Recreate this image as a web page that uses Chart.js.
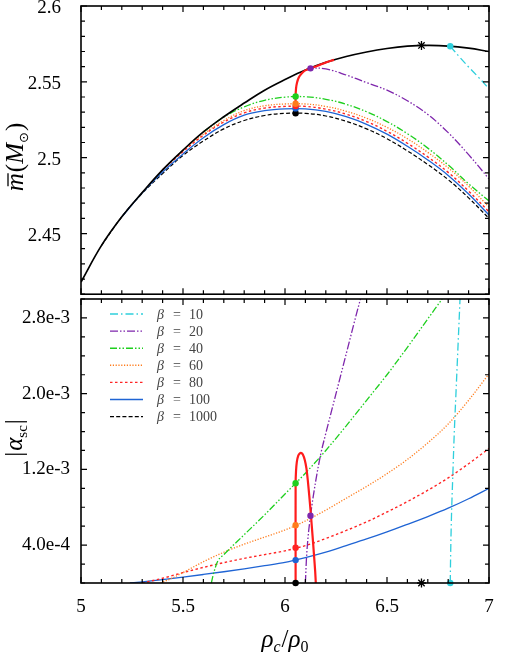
<!DOCTYPE html>
<html>
<head>
<meta charset="utf-8">
<script src="https://cdn.jsdelivr.net/npm/chart.js@4.4.1/dist/chart.umd.min.js"></script>
<style>
    html, body { margin: 0; padding: 0; background: #fff; }
    #wrap { position: relative; width: 525px; height: 657px; }
    canvas { position: absolute; left: 0; }
    #top { top: 0; }
    #bottom { top: 290px; }
</style>
</head>
<body>
<div id="wrap">
    <canvas id="top" width="525" height="300"></canvas>
    <canvas id="bottom" width="525" height="367"></canvas>
</div>
<script>
// ---- data: [rho_c/rho_0, value] ----
const betaValues = [10, 20, 40, 60, 80, 100, 1000];

// upper panel: mass (solar masses)
const massGR = [[5.0, 2.418], [5.1, 2.442], [5.2, 2.461], [5.3, 2.477], [5.4, 2.492], [5.5, 2.505], [5.6, 2.517],
    [5.7, 2.527], [5.8, 2.536], [5.9, 2.5445], [6.0, 2.5515], [6.1, 2.5578], [6.2, 2.5628], [6.3, 2.5667],
    [6.4, 2.5697], [6.5, 2.572], [6.6, 2.5735], [6.7, 2.574], [6.8, 2.5736], [6.9, 2.5722], [7.0, 2.570]];
const massB10 = [[6.81, 2.5735], [6.85, 2.5672], [6.9, 2.5598], [6.95, 2.5528], [7.0, 2.5455]];
const massB20 = [[6.1, 2.5578], [6.125, 2.5589], [6.2, 2.5585], [6.3, 2.5545], [6.4, 2.5495], [6.5, 2.5445],
    [6.6, 2.5375], [6.7, 2.5285], [6.8, 2.5165], [6.9, 2.502], [7.0, 2.486]];
const massB40 = [[5.6, 2.517], [5.7, 2.5268], [5.8, 2.5335], [5.9, 2.5378], [6.0, 2.5399], [6.1, 2.5402],
    [6.2, 2.5385], [6.3, 2.5352], [6.4, 2.5303], [6.5, 2.5238], [6.6, 2.5158], [6.7, 2.5063], [6.8, 2.4952],
    [6.9, 2.4828], [7.0, 2.4715]];
const massB60 = [[5.4, 2.492], [5.5, 2.5048], [5.6, 2.5155], [5.7, 2.5245], [5.8, 2.531], [5.9, 2.5342],
    [6.0, 2.5354], [6.1, 2.5354], [6.2, 2.5338], [6.3, 2.5306], [6.4, 2.526], [6.5, 2.52], [6.6, 2.5125],
    [6.7, 2.5035], [6.8, 2.4933], [6.9, 2.4812], [7.0, 2.4675]];
const massB80 = [[5.4, 2.492], [5.5, 2.504], [5.6, 2.5148], [5.7, 2.5235], [5.8, 2.5295], [5.9, 2.5327],
    [6.0, 2.5338], [6.1, 2.5338], [6.2, 2.532], [6.3, 2.5287], [6.4, 2.5238], [6.5, 2.5174], [6.6, 2.5095],
    [6.7, 2.5005], [6.8, 2.4903], [6.9, 2.478], [7.0, 2.4643]];
const massB100 = [[5.2, 2.461], [5.3, 2.4768], [5.4, 2.4905], [5.5, 2.5025], [5.6, 2.5132], [5.7, 2.5218],
    [5.8, 2.528], [5.9, 2.531], [6.0, 2.5322], [6.1, 2.5322], [6.2, 2.5305], [6.3, 2.527], [6.4, 2.522],
    [6.5, 2.5155], [6.6, 2.5075], [6.7, 2.4985], [6.8, 2.4883], [6.9, 2.476], [7.0, 2.4622]];
const massB1000 = [[5.1, 2.442], [5.2, 2.461], [5.3, 2.4765], [5.4, 2.4895], [5.5, 2.5015], [5.6, 2.511],
    [5.7, 2.519], [5.8, 2.5245], [5.9, 2.5278], [6.0, 2.5292], [6.1, 2.5292], [6.2, 2.5275], [6.3, 2.524],
    [6.4, 2.519], [6.5, 2.5125], [6.6, 2.5045], [6.7, 2.4955], [6.8, 2.4855], [6.9, 2.4735], [7.0, 2.460]];
const massLocus = [[6.052, 2.5293], [6.052, 2.5403], [6.054, 2.5455], [6.059, 2.5495], [6.067, 2.5527],
    [6.077, 2.5548], [6.089, 2.5565], [6.102, 2.5577], [6.115, 2.5585], [6.128, 2.5591], [6.16, 2.5606],
    [6.2, 2.5628], [6.24, 2.5645]];

// lower panel: |alpha_sc|
const alphaB10 = [[6.81, 0], [6.812, 3e-4], [6.816, 7e-4], [6.822, 1.1e-3], [6.83, 1.6e-3], [6.838, 2.0e-3],
    [6.848, 2.5e-3], [6.858, 3.0e-3]];
const alphaB20 = [[6.10, 0], [6.105, 2.5e-4], [6.112, 4.6e-4], [6.125, 7.1e-4], [6.15, 1.07e-3], [6.175, 1.36e-3],
    [6.2, 1.58e-3], [6.25, 2.0e-3], [6.3, 2.42e-3], [6.35, 2.84e-3], [6.37, 3.0e-3]];
const alphaB40 = [[5.639, 0], [5.645, 6e-5], [5.655, 1.4e-4], [5.67, 2.3e-4], [5.7, 3.0e-4], [5.8, 5.1e-4],
    [5.9, 7.2e-4], [6.0, 9.4e-4], [6.1, 1.16e-3], [6.2, 1.4e-3], [6.3, 1.66e-3], [6.4, 1.93e-3], [6.5, 2.2e-3],
    [6.6, 2.49e-3], [6.7, 2.79e-3], [6.77, 3.0e-3]];
const alphaB60 = [[5.39, 0], [5.45, 5.5e-5], [5.5, 1.1e-4], [5.6, 2.25e-4], [5.7, 3.25e-4], [5.8, 4.1e-4],
    [5.9, 4.85e-4], [6.0, 5.6e-4], [6.1, 6.55e-4], [6.2, 7.7e-4], [6.3, 8.95e-4], [6.4, 1.02e-3], [6.5, 1.155e-3],
    [6.6, 1.305e-3], [6.7, 1.48e-3], [6.8, 1.68e-3], [6.9, 1.93e-3], [7.0, 2.21e-3]];
const alphaB80 = [[5.3, 0], [5.4, 5e-5], [5.5, 1.1e-4], [5.6, 1.65e-4], [5.7, 2.15e-4], [5.8, 2.6e-4],
    [5.9, 3.0e-4], [6.0, 3.4e-4], [6.1, 3.95e-4], [6.2, 4.7e-4], [6.3, 5.55e-4], [6.4, 6.45e-4], [6.5, 7.5e-4],
    [6.6, 8.6e-4], [6.7, 9.8e-4], [6.8, 1.11e-3], [6.9, 1.26e-3], [7.0, 1.42e-3]];
const alphaB100 = [[5.24, 0], [5.3, 1.2e-5], [5.4, 3.6e-5], [5.5, 6.2e-5], [5.6, 9.0e-5], [5.7, 1.19e-4],
    [5.8, 1.5e-4], [5.9, 1.83e-4], [6.0, 2.18e-4], [6.1, 2.68e-4], [6.2, 3.26e-4], [6.3, 3.95e-4], [6.4, 4.65e-4],
    [6.5, 5.4e-4], [6.6, 6.2e-4], [6.7, 7.02e-4], [6.8, 7.9e-4], [6.9, 8.9e-4], [7.0, 1.0e-3]];
const alphaLocus = [[6.052, 0], [6.052, 1.05e-3], [6.054, 1.18e-3], [6.058, 1.28e-3], [6.065, 1.345e-3],
    [6.073, 1.37e-3], [6.08, 1.372e-3], [6.088, 1.355e-3], [6.097, 1.3e-3], [6.105, 1.21e-3], [6.112, 1.08e-3],
    [6.119, 0.92e-3], [6.127, 0.72e-3], [6.135, 0.5e-3], [6.142, 0.3e-3], [6.148, 0.12e-3], [6.151, 0]];

// marked models (black=1000, blue=100, red=80, orange=60, green=40, purple=20, cyan=10)
const markRho = [6.052, 6.052, 6.052, 6.052, 6.052, 6.125, 6.81];
const markMass = [2.5293, 2.5325, 2.534, 2.5356, 2.5403, 2.5589, 2.5735];
const markAlpha = [0, 2.42e-4, 3.72e-4, 6.1e-4, 1.053e-3, 7.1e-4, 0];
const starRho = [6.669];
const starMass = [2.574];
const starAlpha = [0];

// ticks
const rhoTicks = [5, 5.5, 6, 6.5, 7];
const rhoTickLabels = ['5', '5.5', '6', '6.5', '7'];
const massTicks = [2.45, 2.5, 2.55, 2.6];
const massTickLabels = ['2.45', '2.5', '2.55', '2.6'];
const alphaTicks = [4e-4, 1.2e-3, 2.0e-3, 2.8e-3];
const alphaTickLabels = ['4.0e-4', '1.2e-3', '2.0e-3', '2.8e-3'];

// ---- styles ----
const SERIF = "'Liberation Serif', 'DejaVu Serif', serif";
const C = {
    b10: '#2fcfdc', b20: '#7e26ac', b40: '#1ecf1e', b60: '#ff7c1c',
    b80: '#ff2424', b100: '#1f64d4', b1000: '#000000', locus: '#ff1c1c'
};
const DASH = {
    b10: [8, 3, 1.5, 3], b20: [8, 2, 1.5, 2, 1.5, 2], b40: [7, 2, 1.5, 2, 1.5, 2],
    b60: [1.2, 1.6], b80: [2.5, 2.5], b100: [], b1000: [4, 2.2]
};
const markColors = [C.b1000, C.b100, C.b80, C.b60, C.b40, C.b20, C.b10];

function curve(points, color, dash, width, order) {
    return {
        data: points.map(([x, y]) => ({ x: x, y: y })),
        borderColor: color,
        borderDash: dash,
        borderWidth: width,
        pointRadius: 0,
        tension: 0.4,
        fill: false,
        order: order
    };
}

// monotone curves for the rising |alpha| branches
function rising(points, color, dash, width, legendIndex) {
    return Object.assign(curve(points, color, dash, width, 3), {
        cubicInterpolationMode: 'monotone',
        legendIndex: legendIndex
    });
}

function markers(xs, ys, colors) {
    return {
        data: xs.map((x, i) => ({ x: x, y: ys[i] })),
        showLine: false,
        pointRadius: 3.2,
        pointBackgroundColor: colors,
        pointBorderWidth: 0,
        clip: false,
        order: 0
    };
}

function star(xs, ys) {
    return {
        data: xs.map((x, i) => ({ x: x, y: ys[i] })),
        showLine: false,
        pointStyle: 'star',
        pointRadius: 4.5,
        pointBorderColor: '#000',
        pointBorderWidth: 1.3,
        clip: false,
        order: 0
    };
}

// frame plus inward ticks on all four sides
const frameTicks = {
    id: 'frameTicks',
    afterDraw(chart, args, opts) {
        const { ctx, chartArea: a, scales: { x, y } } = chart;
        ctx.save();
        ctx.strokeStyle = '#000';
        ctx.lineWidth = 1.2;
        ctx.beginPath();
        for (let i = 0; i <= 20; i++) {
            const px = x.getPixelForValue(5 + i * 0.1);
            const len = i % 5 === 0 ? 6 : 4;
            ctx.moveTo(px, a.bottom); ctx.lineTo(px, a.bottom - len);
            ctx.moveTo(px, a.top); ctx.lineTo(px, a.top + len);
        }
        const n0 = Math.ceil(opts.min / opts.step - 1e-6);
        const n1 = Math.floor(opts.max / opts.step + 1e-6);
        for (let n = n0; n <= n1; n++) {
            const v = n * opts.step;
            const py = y.getPixelForValue(v);
            const major = opts.majors.some(m => Math.abs(m - v) < opts.step * 0.1);
            const len = major ? 6 : 4;
            ctx.moveTo(a.left, py); ctx.lineTo(a.left + len, py);
            ctx.moveTo(a.right, py); ctx.lineTo(a.right - len, py);
        }
        ctx.stroke();
        ctx.lineWidth = 1.6;
        ctx.strokeRect(a.left, a.top, a.right - a.left, a.bottom - a.top);
        ctx.restore();
    }
};

// text made of pieces, centred on (x, baseline y), optionally rotated
function drawPieces(ctx, pieces, x, y, rotate) {
    ctx.save();
    ctx.translate(x, y);
    if (rotate) ctx.rotate(-Math.PI / 2);
    ctx.textAlign = 'left';
    ctx.textBaseline = 'alphabetic';
    ctx.fillStyle = '#000';
    let total = 0;
    pieces.forEach(p => {
        ctx.font = p.f;
        p.w = ctx.measureText(p.t).width + (p.gap || 0);
        total += p.w;
    });
    let cx = -total / 2;
    pieces.forEach(p => {
        ctx.font = p.f;
        ctx.fillText(p.t, cx, p.dy || 0);
        if (p.bar) {
            ctx.lineWidth = 1.3;
            ctx.strokeStyle = '#000';
            ctx.beginPath();
            ctx.moveTo(cx + 5, p.bar);
            ctx.lineTo(cx + p.w - 1, p.bar);
            ctx.stroke();
        }
        cx += p.w;
    });
    ctx.restore();
}

const topTitle = {
    id: 'topTitle',
    afterDraw(chart) {
        drawPieces(chart.ctx, [
            { t: 'm', f: `italic 25px ${SERIF}`, bar: -15, gap: 1 },
            { t: '(', f: `25px ${SERIF}` },
            { t: 'M', f: `italic 25px ${SERIF}` },
            { t: '\u2299', f: `13px 'DejaVu Sans', sans-serif`, dy: 5, gap: 1 },
            { t: ')', f: `25px ${SERIF}` }
        ], 23, 157, true);
    }
};

const bottomDecor = {
    id: 'bottomDecor',
    afterDraw(chart) {
        const { ctx, chartArea: a } = chart;
        drawPieces(ctx, [
            { t: '|', f: `25px ${SERIF}`, gap: 1 },
            { t: '\u03b1', f: `italic 25px ${SERIF}` },
            { t: 'sc', f: `15px ${SERIF}`, dy: 5, gap: 1 },
            { t: '|', f: `25px ${SERIF}` }
        ], 22, 438 - 290, true);
        drawPieces(ctx, [
            { t: '\u03c1', f: `italic 25px ${SERIF}` },
            { t: 'c', f: `italic 16px ${SERIF}`, dy: 5, gap: 1 },
            { t: '/', f: `25px ${SERIF}` },
            { t: '\u03c1', f: `italic 25px ${SERIF}` },
            { t: '0', f: `16px ${SERIF}`, dy: 5 }
        ], 285, 647 - 290, false);

        // legend
        const sets = chart.data.datasets.filter(d => d.legendIndex !== undefined)
            .sort((p, q) => p.legendIndex - q.legendIndex);
        ctx.save();
        sets.forEach((d, i) => {
            const yy = a.top + 15 + i * 17.1;
            ctx.strokeStyle = d.borderColor;
            ctx.lineWidth = 1.4;
            ctx.setLineDash(d.borderDash);
            ctx.beginPath();
            ctx.moveTo(a.left + 29, yy);
            ctx.lineTo(a.left + 62, yy);
            ctx.stroke();
            ctx.setLineDash([]);
            ctx.fillStyle = '#444';
            ctx.textBaseline = 'middle';
            ctx.font = `italic 14px ${SERIF}`;
            ctx.fillText('\u03b2', a.left + 76, yy + 1);
            ctx.font = `14px ${SERIF}`;
            ctx.fillText('=', a.left + 92, yy + 1);
            ctx.fillText(String(betaValues[d.legendIndex]), a.left + 108, yy + 1);
        });
        ctx.restore();
    }
};

const tickFont = { family: SERIF, size: 19 };

// fixed axis boxes so both panels share the same plot edges
function fixY(s) {
    s.width = 81;
    s.paddingTop = 0;
    s.paddingBottom = 0;
}
function fixX(h) {
    return s => {
        s.height = h;
        s.paddingLeft = 0;
        s.paddingRight = 0;
    };
}

Chart.defaults.font.family = SERIF;

// ---- upper panel ----
new Chart(document.getElementById('top'), {
    type: 'line',
    data: {
        datasets: [
            markers(markRho, markMass, markColors),
            star(starRho, starMass),
            Object.assign(curve(massLocus, C.locus, [], 2.2, 1), { tension: 0.25 }),
            curve(massGR, '#000', [], 1.7, 2),
            curve(massB10, C.b10, DASH.b10, 1.3, 3),
            curve(massB20, C.b20, DASH.b20, 1.3, 3),
            curve(massB40, C.b40, DASH.b40, 1.3, 3),
            curve(massB60, C.b60, DASH.b60, 1.3, 3),
            curve(massB80, C.b80, DASH.b80, 1.4, 3),
            curve(massB100, C.b100, DASH.b100, 1.3, 3),
            curve(massB1000, C.b1000, DASH.b1000, 1.2, 3)
        ]
    },
    options: {
        responsive: false,
        animation: false,
        events: [],
        layout: { padding: { left: 0, right: 36, top: 6, bottom: 1 } },
        plugins: {
            legend: { display: false },
            tooltip: { enabled: false },
            frameTicks: { min: 2.41, max: 2.6, step: 0.01, majors: massTicks }
        },
        scales: {
            x: { type: 'linear', min: 5, max: 7, display: false, afterFit: fixX(0) },
            y: {
                type: 'linear', min: 2.41, max: 2.6,
                grid: { display: false },
                border: { display: false },
                afterFit: fixY,
                afterBuildTicks: s => { s.ticks = massTicks.map(v => ({ value: v })); },
                ticks: { callback: (v, i) => massTickLabels[i], font: tickFont, color: '#000', padding: 12,
                    labelOffset: 2 }
            }
        }
    },
    plugins: [frameTicks, topTitle]
});

// ---- lower panel ----
const lowerSets = [
    markers(markRho, markAlpha, markColors),
    star(starRho, starAlpha),
    Object.assign(curve(alphaLocus, C.locus, [], 2.2, 1), { tension: 0.25 }),
    rising(alphaB10, C.b10, DASH.b10, 1.3, 0),
    rising(alphaB20, C.b20, DASH.b20, 1.3, 1),
    rising(alphaB40, C.b40, DASH.b40, 1.3, 2),
    rising(alphaB60, C.b60, DASH.b60, 1.3, 3),
    rising(alphaB80, C.b80, DASH.b80, 1.4, 4),
    rising(alphaB100, C.b100, DASH.b100, 1.3, 5),
    rising([], C.b1000, DASH.b1000, 1.2, 6)
];

new Chart(document.getElementById('bottom'), {
    type: 'line',
    data: { datasets: lowerSets },
    options: {
        responsive: false,
        animation: false,
        events: [],
        layout: { padding: { left: 0, right: 36, top: 9, bottom: 0 } },
        plugins: {
            legend: { display: false },
            tooltip: { enabled: false },
            frameTicks: { min: 0, max: 3e-3, step: 2e-4, majors: alphaTicks }
        },
        scales: {
            x: {
                type: 'linear', min: 5, max: 7,
                grid: { display: false },
                border: { display: false },
                afterFit: fixX(74),
                afterBuildTicks: s => { s.ticks = rhoTicks.map(v => ({ value: v })); },
                ticks: { callback: (v, i) => rhoTickLabels[i], font: tickFont, color: '#000', padding: 5,
                    maxRotation: 0, autoSkip: false }
            },
            y: {
                type: 'linear', min: 0, max: 3e-3,
                grid: { display: false },
                border: { display: false },
                afterFit: fixY,
                afterBuildTicks: s => { s.ticks = alphaTicks.map(v => ({ value: v })); },
                ticks: { callback: (v, i) => alphaTickLabels[i], font: tickFont, color: '#000', padding: 3 }
            }
        }
    },
    plugins: [frameTicks, bottomDecor]
});
</script>
</body>
</html>
